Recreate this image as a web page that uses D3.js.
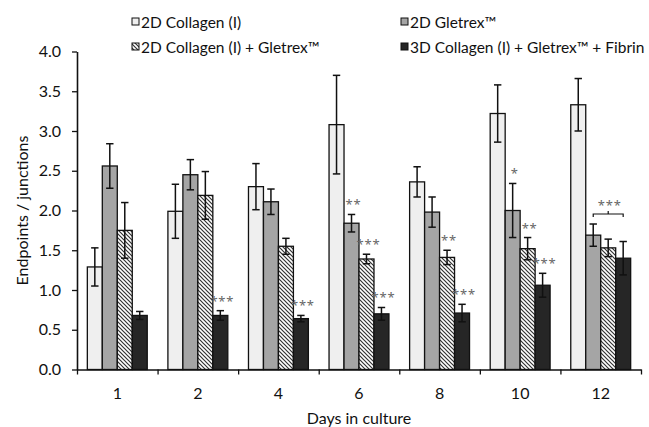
<!DOCTYPE html>
<html>
<head>
<meta charset="utf-8">
<script src="https://cdn.jsdelivr.net/npm/d3@7"></script>
<style>
  body { margin: 0; background: #fff; }
  svg text { font-family: Lato, "Noto Sans", sans-serif; fill: #111; }
</style>
</head>
<body>
<script>
const days = ["1", "2", "4", "6", "8", "10", "12"];
const seriesNames = ["2D Collagen (I)", "2D Gletrex™", "2D Collagen (I) + Gletrex™", "3D Collagen (I) + Gletrex™ + Fibrin"];

const collagenMean = [1.29, 1.99, 2.30, 3.08, 2.36, 3.22, 3.33];
const collagenErr = [0.24, 0.34, 0.29, 0.62, 0.19, 0.36, 0.33];
const gletrexMean = [2.56, 2.45, 2.11, 1.84, 1.98, 2.00, 1.69];
const gletrexErr = [0.28, 0.19, 0.16, 0.11, 0.19, 0.34, 0.14];
const mixMean = [1.75, 2.19, 1.55, 1.39, 1.41, 1.52, 1.53];
const mixErr = [0.35, 0.30, 0.10, 0.06, 0.09, 0.14, 0.11];
const fibrinMean = [0.68, 0.68, 0.64, 0.70, 0.71, 1.06, 1.40];
const fibrinErr = [0.05, 0.06, 0.04, 0.08, 0.11, 0.15, 0.21];

// significance marks: [day index, series index, label]
const stars = [
    [1, 3, "***"], [2, 3, "***"],
    [3, 1, "**"], [3, 2, "***"], [3, 3, "***"],
    [4, 2, "**"], [4, 3, "***"],
    [5, 1, "*"], [5, 2, "**"], [5, 3, "***"]
];
// bracket over day 12, from series 1 to series 3
const bracket = [6, 1, 3, "***"];

const yTicks = [0, 0.5, 1, 1.5, 2, 2.5, 3, 3.5, 4];

const width = 649;
const height = 427;
const margin = { top: 51.5, left: 77, right: 8, bottom: 57.5 };

const means = [collagenMean, gletrexMean, mixMean, fibrinMean];
const errs = [collagenErr, gletrexErr, mixErr, fibrinErr];
const fills = ["#efefef", "#a5a5a5", "url(#hatch)", "#262626"];

const svg = d3.select("body")
    .append("svg")
    .attr("width", width)
    .attr("height", height);

const pattern = svg.append("defs")
    .append("pattern")
    .attr("id", "hatch")
    .attr("patternUnits", "userSpaceOnUse")
    .attr("width", 4)
    .attr("height", 4);
pattern.append("rect").attr("width", 4).attr("height", 4).attr("fill", "#fff");
pattern.append("path")
    .attr("d", "M-1,-1 L5,5 M-1,3 L1,5 M3,-1 L5,1")
    .attr("stroke", "#333")
    .attr("stroke-width", 1.2);

const x0 = d3.scaleBand()
    .domain(days)
    .range([margin.left, width - margin.right]);

const x1 = d3.scaleBand()
    .domain(d3.range(4))
    .range([0, x0.bandwidth()])
    .paddingOuter(0.69);

const y = d3.scaleLinear()
    .domain([0, 4])
    .range([height - margin.bottom, margin.top]);

const rows = [];
days.forEach((d, i) => {
    means.forEach((m, s) => rows.push({ day: d, di: i, s, v: m[i], e: errs[s][i] }));
});

const bars = svg.append("g");
bars.selectAll("rect")
    .data(rows)
    .enter()
    .append("rect")
    .attr("x", d => x0(d.day) + x1(d.s))
    .attr("y", d => y(d.v))
    .attr("width", x1.bandwidth())
    .attr("height", d => y(0) - y(d.v))
    .attr("fill", d => fills[d.s])
    .attr("stroke", "#111")
    .attr("stroke-width", 1.3);

const errG = svg.append("g").attr("stroke", "#111").attr("stroke-width", 1.5);
rows.forEach(d => {
    const cx = x0(d.day) + x1(d.s) + x1.bandwidth() / 2;
    errG.append("line").attr("x1", cx).attr("x2", cx).attr("y1", y(d.v + d.e)).attr("y2", y(d.v - d.e));
    errG.append("line").attr("x1", cx - 3.7).attr("x2", cx + 3.7).attr("y1", y(d.v + d.e)).attr("y2", y(d.v + d.e));
    errG.append("line").attr("x1", cx - 3.7).attr("x2", cx + 3.7).attr("y1", y(d.v - d.e)).attr("y2", y(d.v - d.e));
});

const starStyle = sel => sel
    .attr("text-anchor", "middle")
    .style("font-family", "'Noto Sans', sans-serif")
    .style("font-size", "13px")
    .style("letter-spacing", "0.8px")
    .style("fill", "#666");

svg.append("g")
    .selectAll("text")
    .data(stars)
    .enter()
    .append("text")
    .attr("x", d => x0(days[d[0]]) + x1(d[1]) + x1.bandwidth() / 2 + 2)
    .attr("y", d => y(means[d[1]][d[0]] + errs[d[1]][d[0]]) - 5)
    .call(starStyle)
    .text(d => d[2]);

const bx1 = x0(days[bracket[0]]) + x1(bracket[1]) + x1.bandwidth() / 2;
const bx2 = x0(days[bracket[0]]) + x1(bracket[2]) + x1.bandwidth() / 2;
const by = 214;
svg.append("path")
    .attr("d", `M${bx1},${by + 3}V${by}H${bx2}V${by + 3}M${(bx1 + bx2) / 2},${by}v-3`)
    .attr("fill", "none")
    .attr("stroke", "#111")
    .attr("stroke-width", 1.2);
svg.append("text")
    .attr("x", (bx1 + bx2) / 2 + 1.5)
    .attr("y", by - 4)
    .call(starStyle)
    .text(bracket[3]);

// axes
svg.append("g")
    .attr("transform", `translate(${margin.left},0)`)
    .call(d3.axisLeft(y).tickValues(yTicks).tickFormat(d3.format(".1f")).tickSize(5).tickSizeOuter(0).tickPadding(11));

svg.append("g")
    .attr("transform", `translate(0,${y(0)})`)
    .call(d3.axisBottom(x0).tickSize(0).tickPadding(18));

const bounds = d3.scaleLinear().domain([0, days.length]).range(x0.range());
svg.append("g")
    .attr("transform", `translate(0,${y(0)})`)
    .call(d3.axisBottom(bounds).ticks(days.length).tickFormat("").tickSize(5).tickSizeOuter(0))
    .call(g => g.select(".domain").remove());

svg.selectAll(".domain").attr("stroke", "#111").attr("stroke-width", 1.6);
svg.selectAll(".tick line").attr("stroke", "#111").attr("stroke-width", 1.3);
svg.selectAll(".tick text").style("font-size", "16px").attr("fill", "#111").style("font-family", "Lato, 'Noto Sans', sans-serif");

svg.append("text")
    .attr("transform", `translate(28,${(y(0) + y(4)) / 2}) rotate(-90)`)
    .attr("text-anchor", "middle")
    .style("font-size", "16px")
    .text("Endpoints / junctions");

svg.append("text")
    .attr("x", (x0.range()[0] + x0.range()[1]) / 2)
    .attr("y", 424)
    .attr("text-anchor", "middle")
    .style("font-size", "16px")
    .text("Days in culture");

// legend
const legendPos = [[132, 22], [401, 22], [132, 47], [401, 47]];
const legend = svg.append("g");
seriesNames.forEach((name, s) => {
    const [lx, ly] = legendPos[s];
    legend.append("rect")
        .attr("x", lx)
        .attr("y", ly - 4)
        .attr("width", 7)
        .attr("height", 7)
        .attr("fill", fills[s])
        .attr("stroke", "#111")
        .attr("stroke-width", 1);
    legend.append("text")
        .attr("x", lx + 9)
        .attr("y", ly + 5.5)
        .style("font-size", "15.5px")
        .text(name);
});
</script>
</body>
</html>
